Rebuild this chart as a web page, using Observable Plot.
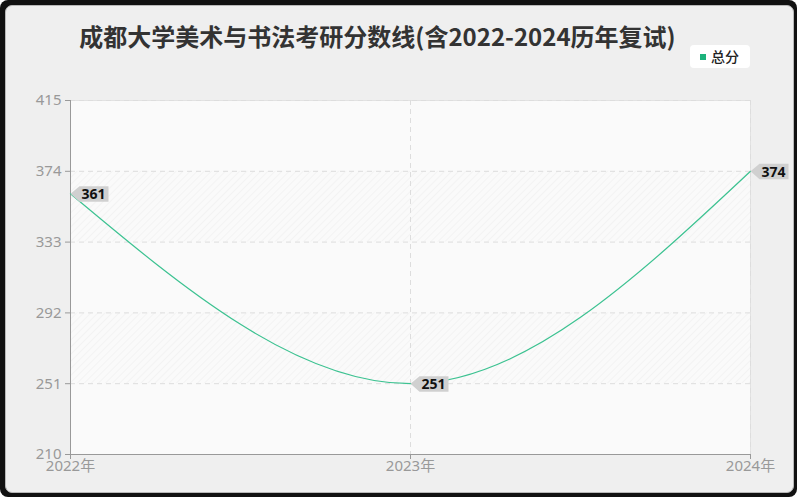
<!DOCTYPE html>
<html><head><meta charset="utf-8">
<script src="https://cdn.jsdelivr.net/npm/d3@7"></script>
<script src="https://cdn.jsdelivr.net/npm/@observablehq/plot@0.6"></script>
<style>
html,body{margin:0;padding:0;background:#fff;}
#outer{position:absolute;left:0;top:0;width:797px;height:497px;background:#111;border-radius:8px;}
#panel{position:absolute;left:5px;top:5px;width:787px;height:486px;background:#efefef;border:1px solid #b8b8b8;border-radius:7px;}
#chart{position:absolute;left:0;top:0;}
#title{position:absolute;left:0;width:755px;top:18px;text-align:center;font-family:"Noto Sans CJK SC";font-weight:bold;font-size:24px;color:#333;white-space:nowrap;}
#legend{position:absolute;left:690px;top:45px;width:60px;height:23px;background:#fff;border-radius:4px;font-family:"Noto Sans CJK SC";font-size:14px;font-weight:500;color:#222;}
#legend .sw{position:absolute;left:10px;top:9px;width:6px;height:6px;background:#1bb27b;}
#legend .lb{position:absolute;left:21px;top:1px;}
#chart svg g[aria-label="y-axis tick label"], #chart svg g[aria-label="x-axis tick label"] {font-size:15px;font-family:'Noto Sans','Noto Sans CJK SC',sans-serif;}
#chart svg g.lbl {font-size:14px;font-weight:bold;font-family:'Noto Sans',sans-serif;}
</style></head>
<body>
<div id="outer"></div>
<div id="panel"></div>
<div id="chart"></div>
<div id="title">成都大学美术与书法考研分数线(含2022-2024历年复试)</div>
<div id="legend"><span class="sw"></span><span class="lb">总分</span></div>
<script>
const years = [2022, 2023, 2024];
const scores = [361, 251, 374];
const yTicks = [210, 251, 292, 333, 374, 415];
const seriesName = "总分";
const data = years.map((y, i) => ({year: y, value: scores[i], series: seriesName}));
// alternating hatched bands between grid lines
const bands = yTicks.slice(0, -1).map((t, i) => ({y1: t, y2: yTicks[i + 1], hatch: i % 2 === 1}));

const labelShape = {
  draw(ctx) {
    ctx.moveTo(0, 0);
    ctx.lineTo(9, -7.5);
    ctx.lineTo(38, -7.5);
    ctx.lineTo(38, 8);
    ctx.lineTo(9, 8);
    ctx.closePath();
  }
};

const plot = Plot.plot({
  width: 800, height: 500,
  marginLeft: 70, marginRight: 50, marginTop: 100, marginBottom: 46,
  style: {background: "transparent", fontFamily: "Noto Sans", fontSize: "15px", color: "#111"},
  x: {domain: [2022, 2024], ticks: years, tickFormat: d => d + "年", label: null},
  y: {domain: [210, 415], ticks: yTicks, label: null},
  marks: [
    Plot.frame({fill: "#fafafa", stroke: "#e2e2e2"}),
    Plot.rectY(bands.filter(b => b.hatch), {y1: "y1", y2: "y2", fill: "url(#hatch)", inset: 0}),
    Plot.gridY(yTicks, {stroke: "#ddd", strokeOpacity: 1, strokeDasharray: "5,4"}),
    Plot.gridX(years, {stroke: "#ddd", strokeOpacity: 1, strokeDasharray: "5,4"}),
    Plot.axisY({ticks: yTicks, tickSize: 5, tickPadding: 4, stroke: "#999", fill: "#999"}),
    Plot.axisX({ticks: years, tickFormat: d => d + "年", tickSize: 5, tickPadding: 1, stroke: "#999", fill: "#999"}),
    Plot.ruleX([2022], {stroke: "#999"}),
    Plot.ruleY([210], {stroke: "#999"}),
    Plot.line(data, {x: "year", y: "value", stroke: "#3cc291", strokeWidth: 1.2, curve: "monotone-x"}),
    Plot.dot(data, {x: "year", y: "value", symbol: labelShape, fill: "#d0d0d0", stroke: "none", r: 5}),
    Plot.text(data, {x: "year", y: "value", text: d => String(d.value), textAnchor: "start", dx: 11, dy: 1,
      fill: "#111", className: "lbl"})
  ]
});
const ns = "http://www.w3.org/2000/svg";
const defs = document.createElementNS(ns, "defs");
defs.innerHTML = `<pattern id="hatch" width="5" height="5" patternUnits="userSpaceOnUse" patternTransform="rotate(45)">
<rect width="5" height="5" fill="#fafafa"/><line x1="0" y1="0" x2="0" y2="5" stroke="#ededed" stroke-width="1"/></pattern>`;
plot.insertBefore(defs, plot.firstChild);
document.getElementById("chart").appendChild(plot);
</script>
</body></html>
